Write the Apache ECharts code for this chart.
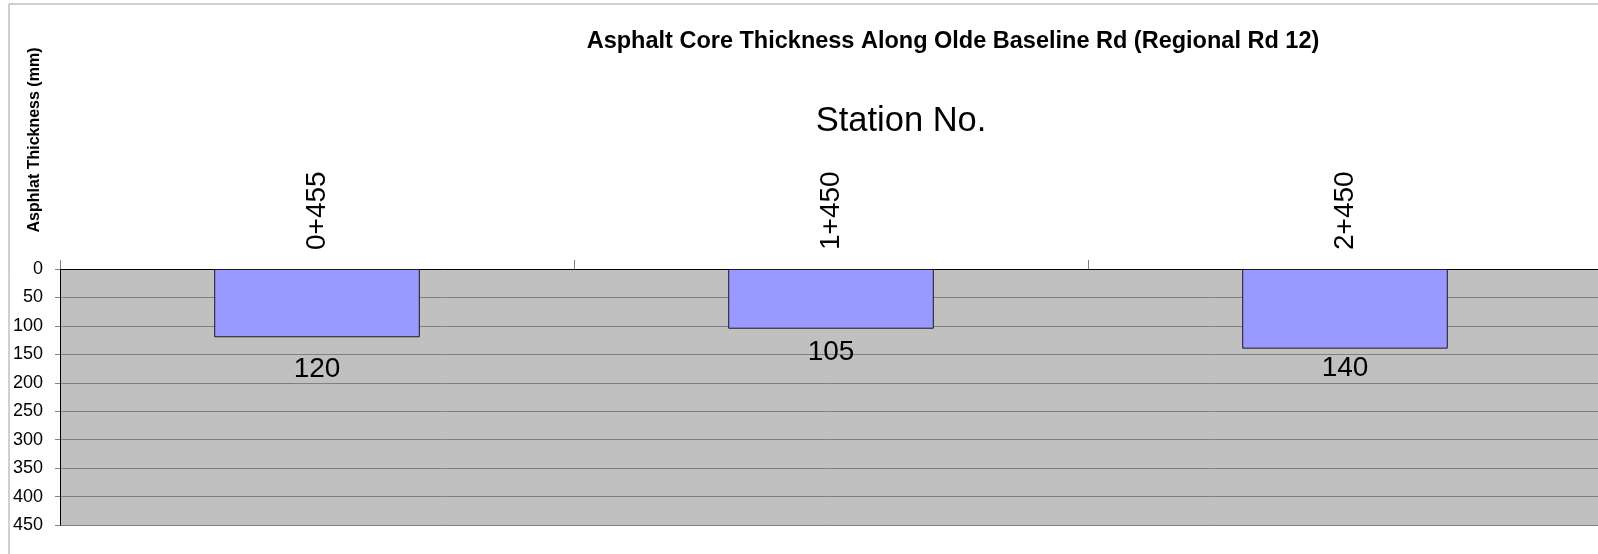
<!DOCTYPE html>
<html>
<head>
<meta charset="utf-8">
<title>Asphalt Core Thickness</title>
<script src="https://cdn.jsdelivr.net/npm/echarts@6/dist/echarts.min.js"></script>
<style>
  html, body { margin: 0; padding: 0; background: #fff; }
  #chart { width: 1598px; height: 554px; }
</style>
</head>
<body>
<div id="chart"></div>
<script>
// Core stations and measured asphalt thickness (mm)
const stations = ['0+455', '1+450', '2+450'];
const thickness = [120, 105, 140];
const yTicks = [0, 50, 100, 150, 200, 250, 300, 350, 400, 450];

const FONT = "'Liberation Sans', Arial, sans-serif";
// space between each bar end and its value label
const labelGap = [18, 10, 6];

const chart = echarts.init(document.getElementById('chart'));

chart.setOption({
  animation: false,
  backgroundColor: '#ffffff',
  grid: {
    left: 60,
    top: 269,
    width: 1542,
    height: 256,
    containLabel: false,
    outerBoundsMode: 'none',
    show: true,
    backgroundColor: '#c0c0c0',
    borderWidth: 0
  },
  xAxis: {
    type: 'category',
    position: 'top',
    data: stations,
    axisLine: { show: true, lineStyle: { color: '#000', width: 1 } },
    axisTick: { show: true, interval: 0, length: 9, lineStyle: { color: '#808080' } },
    axisLabel: {
      rotate: 90,
      margin: 19,
      interval: 0,
      fontSize: 28,
      fontFamily: FONT,
      color: '#000'
    },
    splitLine: { show: false }
  },
  yAxis: {
    type: 'value',
    inverse: true,
    min: yTicks[0],
    max: yTicks[yTicks.length - 1],
    interval: yTicks[1] - yTicks[0],
    axisLine: { show: true, lineStyle: { color: '#000', width: 1 } },
    axisTick: { show: true, length: 5, lineStyle: { color: '#808080' } },
    axisLabel: {
      margin: 17,
      fontSize: 18,
      fontFamily: FONT,
      color: '#000'
    },
    splitLine: { show: true, lineStyle: { color: '#808080', width: 1 } }
  },
  series: [{
    type: 'bar',
    barWidth: '40%',
    data: thickness.map((v, i) => ({
      value: v,
      label: { distance: labelGap[i] }
    })),
    itemStyle: { color: '#9999ff', borderColor: '#1a1a1a', borderWidth: 1 },
    label: {
      show: true,
      position: 'bottom',
      fontSize: 28,
      fontFamily: FONT,
      color: '#000'
    }
  }],
  graphic: [
    {
      type: 'rect',
      shape: { x: 9, y: 4, width: 1700, height: 700 },
      style: { fill: null, stroke: '#a0a0a0', lineWidth: 1 },
      silent: true
    },
    {
      type: 'text',
      x: 953,
      y: 42,
      style: {
        text: 'Asphalt Core Thickness Along Olde Baseline Rd (Regional Rd 12)',
        font: "bold 23.5px " + FONT,
        fill: '#000',
        textAlign: 'center',
        textVerticalAlign: 'middle'
      }
    },
    {
      type: 'text',
      x: 901,
      y: 121,
      style: {
        text: 'Station No.',
        font: "34.5px " + FONT,
        fill: '#000',
        textAlign: 'center',
        textVerticalAlign: 'middle'
      }
    },
    {
      type: 'text',
      x: 35,
      y: 140,
      rotation: Math.PI / 2,
      style: {
        text: 'Asphlat Thickness (mm)',
        font: "bold 16px " + FONT,
        fill: '#000',
        textAlign: 'center',
        textVerticalAlign: 'middle'
      }
    }
  ]
});
</script>
</body>
</html>
